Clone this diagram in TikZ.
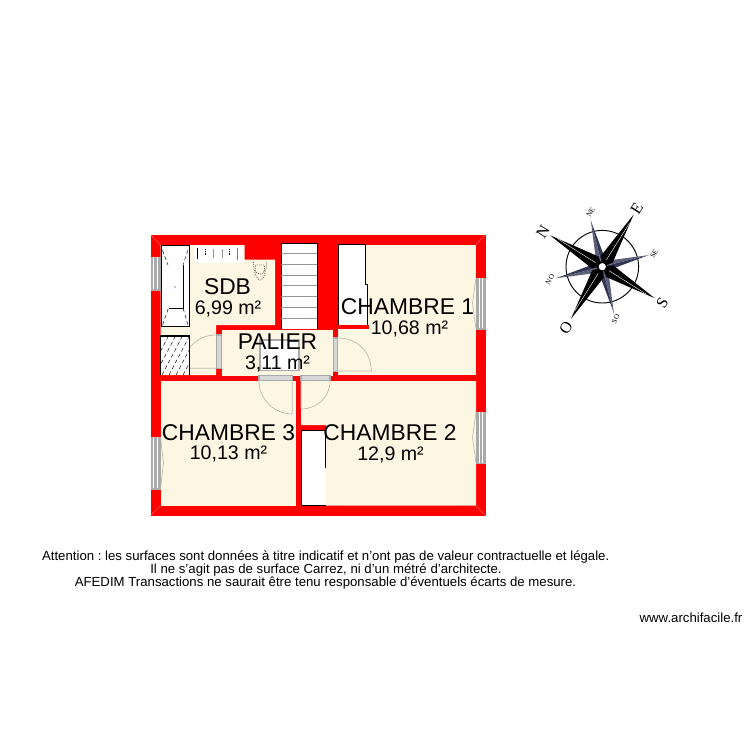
\documentclass[tikz,border=0pt]{standalone}
\usepackage{fontspec}
\usetikzlibrary{calc}
\setmainfont{Liberation Sans}
\frenchspacing
\definecolor{wallred}{RGB}{255,0,0}
\definecolor{mitrepink}{RGB}{255,120,120}
\definecolor{roomcream}{RGB}{253,246,227}
\definecolor{framegray}{RGB}{170,170,170}
\definecolor{framepale}{RGB}{215,215,215}
\definecolor{swinggray}{RGB}{185,185,175}
\definecolor{stepgray}{RGB}{150,150,150}
\definecolor{pointblue}{RGB}{50,54,82}
\definecolor{pointpale}{RGB}{90,95,120}
\tikzset{
  roomname/.style={inner sep=0.75pt,font=\fontsize{17.1pt}{18pt}\selectfont},
  roomarea/.style={inner sep=0.75pt,font=\fontsize{14.7pt}{16pt}\selectfont},
  notetext/.style={inner sep=0.75pt,font=\fontsize{9.9pt}{11pt}\selectfont},
  compassmain/.style={inner sep=0pt,rotate=58,font=\fontsize{12pt}{13pt}\fontspec{Liberation Serif}},
  compassminor/.style={inner sep=0pt,rotate=58,font=\fontsize{5.5pt}{6pt}\fontspec{Liberation Serif}},
  doorarc/.style={draw=swinggray,line width=0.5pt},
  openframe/.style={draw=framegray,fill=framepale,line width=0.8pt},
  fixture/.style={draw=black,fill=white,line width=0.4pt},
}
\begin{document}
\begin{tikzpicture}[x=0.75pt,y=0.75pt,yscale=-1]
\useasboundingbox (0,0) rectangle (750,750);
%Shape: Outer walls
\fill [wallred] (150.5,234.7) -- (485.7,234.7) -- (485.7,515.7) -- (150.5,515.7) -- cycle ;
\foreach \xa/\ya/\xb/\yb in {150.5/234.7/160.5/245,485.7/234.7/476/244.5,150.5/515.7/160.5/505.7,485.7/515.7/476/505.7}
  \draw [mitrepink,line width=0.3pt] (\xa,\ya) -- (\xb,\yb) ;
%Shape: Room floors
\fill [roomcream] (160.5,245) -- (244.5,245) -- (244.5,259.5) -- (275,259.5) -- (275,325) -- (216,325) -- (216,375) -- (160.5,375) -- cycle ;
\fill [roomcream] (221.7,330) -- (332.7,330) -- (332.7,375.5) -- (221.7,375.5) -- cycle ;
\fill [roomcream] (338.3,244.5) -- (476,244.5) -- (476,375) -- (338.3,375) -- cycle ;
\fill [roomcream] (160.5,381) -- (296,381) -- (296,505.7) -- (160.5,505.7) -- cycle ;
\fill [roomcream] (301,381) -- (476,381) -- (476,505.7) -- (326,505.7) -- (326,425) -- (301,425) -- cycle ;
%Shape: Stairs
\fill [white] (281,243.5) -- (317,243.5) -- (317,329) -- (281,329) -- cycle ;
\draw [black,line width=0.4pt] (281,329) -- (281,243.5) -- (317,243.5) -- (317,329) ;
\foreach \ypos in {253,264,275,285.7,296.7,307.3,318.3}
  \draw [stepgray,line width=0.7pt] (281,\ypos) -- (317,\ypos) ;
%Shape: Closet of bedroom 1
\fill [white] (338.3,244.5) -- (365.7,244.5) -- (365.7,284.3) -- (367,284.3) -- (367,324.5) -- (338.3,324.5) -- cycle ;
\draw [black,line width=0.5pt] (338.3,324.5) -- (338.3,244.5) -- (365.7,244.5) -- (365.7,284.3) -- (367,284.3) -- (367,324.5) ;
\fill [wallred] (338.3,324.5) -- (369,324.5) -- (369,329.3) -- (338.3,329.3) -- cycle ;
%Shape: Closet of bedroom 2
\fill [white] (301.5,430.7) -- (325.7,430.7) -- (325.7,505.5) -- (301.5,505.5) -- cycle ;
\draw [black,line width=0.5pt] (325.7,468) -- (325.7,430.7) -- (301.5,430.7) -- (301.5,505.5) -- (325.7,505.5) ;
%Shape: Stair opening on the landing
\fill [white] (259.3,339) -- (299.5,339) -- (299.5,371) -- (259.3,371) -- cycle ;
\draw [framegray,line width=1.2pt] (260,339.7) -- (299,339.7) -- (299,370.3) -- (260,370.3) -- cycle ;
%Shape: Windows and door frames
\foreach \xa/\ya/\xb/\yb in {151/256.7/160.5/290,151/436.7/160.5/489,476.5/277.7/485.2/329,476.5/411.7/485.2/463.3}{
  \draw [draw=framegray,fill=framegray,line width=0.3pt] (\xa,\ya) rectangle (\xb,\yb) ;
  \draw [white,line width=0.7pt] (\xa+2.6,\ya+0.6) -- (\xa+2.6,\yb-0.6) ;
  \draw [white,line width=0.7pt] (\xb-2.6,\ya+0.6) -- (\xb-2.6,\yb-0.6) ;
}
\foreach \xa/\ya/\xb/\yb in {216.4/335/221.3/368.3,333.4/338/337.9/371.7,259/375.7/292.3/380.6,301/375.7/330/380.6}
  \draw [openframe] (\xa,\ya) rectangle (\xb,\yb) ;
%Shape: Window swings
\draw [doorarc] (160.5,437) -- (163.5,463) -- (160.5,489) ;
\draw [doorarc] (476,278) -- (472.5,303) -- (476,329) ;
\draw [doorarc] (476,412) -- (472.5,437.5) -- (476,463) ;
%Shape: Door swings
\draw [doorarc] (216,335) .. controls (197,335) and (182.7,350) .. (182.7,368.3) -- (216,368.3) ;
\draw [doorarc] (338.3,338) .. controls (357,338) and (371.3,352) .. (371.3,371) -- (338.3,371) ;
\draw [doorarc] (259,381) .. controls (259,399) and (274,414) .. (292.3,414) -- (292.3,381) ;
\draw [doorarc] (330,381) .. controls (330,397) and (317,409) .. (301,409) -- (301,381) ;
%Shape: Shower
\fill [white] (160.5,336) -- (189.3,336) -- (189.3,375) -- (160.5,375) -- cycle ;
\draw [black,line width=0.9pt] (160.5,375) -- (160.5,336) -- (189.3,336) -- (189.3,375) ;
\begin{scope}
\clip (161,337) rectangle (188.8,374.5);
\foreach \xpos in {148,155,162,169,176,183}
  \draw [black,line width=0.35pt,densely dashed] (\xpos,375) -- (\xpos+20,337) ;
\end{scope}
%Shape: Bath tub
\draw [fixture] (161,245.7) -- (189.3,245.7) -- (189.3,326.7) -- (161,326.7) -- cycle ;
\draw [black,line width=0.7pt] (183,265) -- (183,308) -- (169,308) ;
\draw [black,line width=0.35pt,densely dashed] (162.5,250) -- (168,265) ;
\draw [black,line width=0.35pt,densely dashed] (188,250) -- (183,265) ;
\draw [black,line width=0.35pt,densely dashed] (162.5,325) -- (168.5,308) ;
\draw [black,line width=0.35pt,densely dashed] (188,325) -- (183,308) ;
\fill [black] (175,287) circle (0.7) ;
%Shape: Wash basin
\fill [white] (194.3,245) -- (243.5,245) -- (243.5,263.3) -- (194.3,263.3) -- cycle ;
\draw [black,line width=0.9pt] (197.3,248) -- (197.3,258.5) ;
\draw [gray,line width=1pt] (237.7,248) -- (237.7,260) ;
\draw [stepgray,line width=0.4pt] (213,249) -- (213,258) ;
\draw [stepgray,line width=0.4pt] (222,249) -- (222,258) ;
\draw [black,line width=0.35pt,densely dotted] (205.5,249) -- (205.5,255) ;
\draw [black,line width=0.35pt,densely dotted] (229,249) -- (229,255) ;
%Shape: Toilet
\draw [black,line width=0.5pt,densely dotted] (253.5,262) .. controls (254,274) and (257,280) .. (260,280) .. controls (263,280) and (266,274) .. (266.5,262) ;
\draw [black,line width=0.5pt,densely dotted] (255.5,265) -- (264.5,265) -- (264.5,271) .. controls (262,275) and (258,275) .. (255.5,271) -- cycle ;
%Shape: Compass
\draw [black,line width=0.7pt] (602.3,266.7) circle (36.3) ;
\foreach \ang in {76,166,256,346}{
  \fill [pointblue] (602.3,266.7) -- ($(602.3,266.7)+(\ang:47.5)$) -- ($(602.3,266.7)+(\ang+18:13)$) -- cycle ;
  \fill [pointpale] (602.3,266.7) -- ($(602.3,266.7)+(\ang:47.5)$) -- ($(602.3,266.7)+(\ang-18:13)$) -- cycle ;
}
\foreach \ang in {31,121,211,301}{
  \fill [black] ($(602.3,266.7)+(\ang+38:11)$) -- ($(602.3,266.7)+(\ang:61)$) -- ($(602.3,266.7)+(\ang-38:11)$) -- (602.3,266.7) -- cycle ;
  \draw [white,line width=0.3pt] ($(602.3,266.7)+(\ang:8)$) -- ($(602.3,266.7)+(\ang+1:52)$) ;
}
\fill [black] (602.3,266.7) circle (5) ;
\fill [white] (602.3,266.7) circle (3.6) ;
% Text Node
\draw (543,231.7) node (compassN) [compassmain] {N};
\draw (636.7,209) node (compassE) [compassmain] {E};
\draw (662.3,302.7) node (compassS) [compassmain] {S};
\draw (566,327.7) node (compassO) [compassmain] {O};
\draw (590.7,212.3) node (compassNE) [compassminor] {NE};
\draw (654,254) node (compassSE) [compassminor] {SE};
\draw (615.7,319) node (compassSO) [compassminor] {SO};
\draw (550,279.3) node (compassNO) [compassminor] {NO};
% Text Node
\draw (227.5,287) node (nameSDB) [roomname] {SDB};
\draw (228,309) node (areaSDB) [roomarea] {6,99 m²};
\draw (277.5,342) node (namePALIER) [roomname] {PALIER};
\draw (277.5,364) node (areaPALIER) [roomarea] {3,11 m²};
\draw (407.5,307) node (nameCH1) [roomname] {CHAMBRE 1};
\draw (409.5,328.5) node (areaCH1) [roomarea] {10,68 m²};
\draw (228.5,432.5) node (nameCH3) [roomname] {CHAMBRE 3};
\draw (228.5,453.5) node (areaCH3) [roomarea] {10,13 m²};
\draw (390,432.5) node (nameCH2) [roomname] {CHAMBRE 2};
\draw (390.5,454.5) node (areaCH2) [roomarea] {12,9 m²};
% Text Node
\draw (325.7,557) node (noteA) [notetext] {Attention : les surfaces sont données à titre indicatif et n’ont pas de valeur contractuelle et légale.};
\draw (326,570) node (noteB) [notetext] {Il ne s’agit pas de surface Carrez, ni d’un métré d’architecte.};
\draw (325.5,583) node (noteC) [notetext] {AFEDIM Transactions ne saurait être tenu responsable d’éventuels écarts de mesure.};
\draw (691,618) node (siteName) [notetext] {www.archifacile.fr};
\end{tikzpicture}
\end{document}
